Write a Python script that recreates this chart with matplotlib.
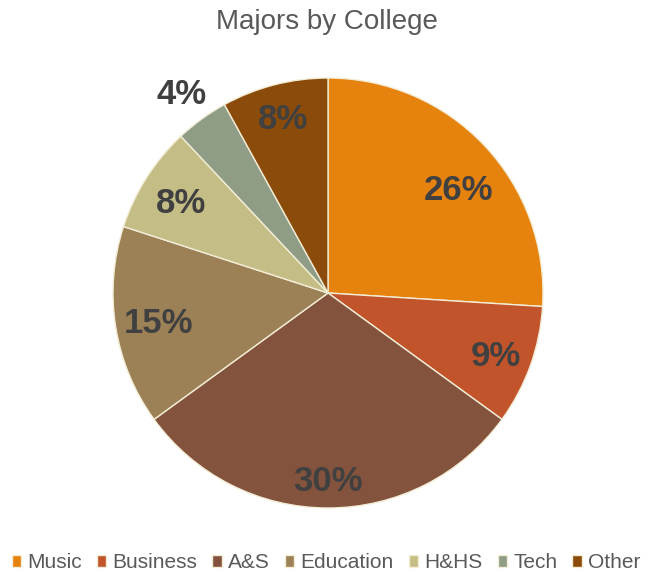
import matplotlib.pyplot as plt
import numpy as np

plt.rcParams['font.family'] = ['Liberation Sans', 'DejaVu Sans']

colleges = ['Music', 'Business', 'A&S', 'Education', 'H&HS', 'Tech', 'Other']
shares = [26, 9, 30, 15, 8, 4, 8]
colors = ['#E6820E', '#C1542A', '#83533D', '#9C8157', '#C4BD86', '#8F9D86', '#8A4B0B']
# how far out each percentage sits, as a fraction of the radius
label_radius = [0.79, 0.83, 0.86, 0.80, 0.81, 1.16, 0.85]

fig = plt.figure(figsize=(6.52, 5.78), dpi=100)
ax = fig.add_axes([113 / 652, 70 / 578, 430 / 652, 430 / 578])

wedges, texts, pcts = ax.pie(
    shares, colors=colors, startangle=90, counterclock=False,
    autopct='%1.0f%%', pctdistance=0.82,
    wedgeprops=dict(edgecolor='#F3EDD6', linewidth=1.0),
    textprops=dict(fontsize=25, fontweight='bold', color='#404040'),
)

for w, t, r in zip(wedges, pcts, label_radius):
    mid = np.deg2rad((w.theta1 + w.theta2) / 2)
    t.set_position((r * np.cos(mid), r * np.sin(mid)))
    t.set_va('center_baseline')

# nudge the big Music label a little lower, toward the slice's wider part
x, y = pcts[0].get_position()
pcts[0].set_position((x + 0.03, y - 0.05))

ax.set_aspect('equal')
ax.set_xlim(-1, 1)
ax.set_ylim(-1, 1)

fig.text(0.502, 1 - 22 / 578, 'Majors by College', ha='center', va='center',
         fontsize=20, color='#595959')

fig.legend(wedges, colleges, loc='center', bbox_to_anchor=(0.5, 1 - 563 / 578),
           ncol=7, frameon=False, fontsize=15, handlelength=0.45, handleheight=0.45,
           handletextpad=0.3, columnspacing=0.72, labelcolor='#595959',
           borderaxespad=0, borderpad=0)

fig.savefig('out.png', dpi=100)
